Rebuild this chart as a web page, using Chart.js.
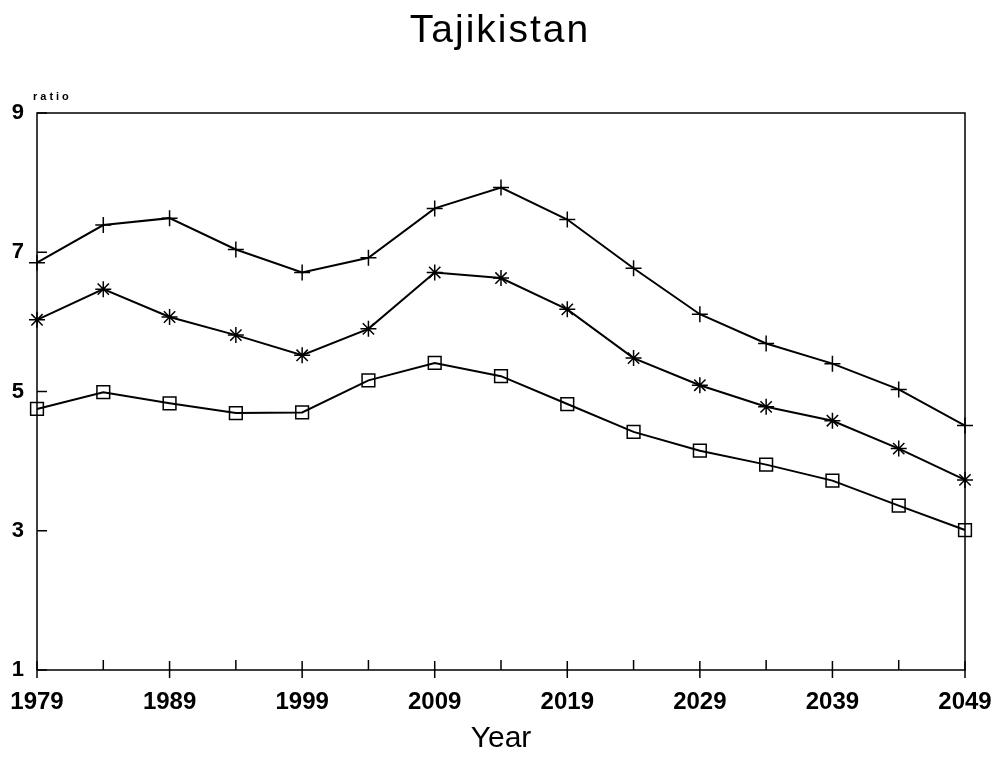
<!DOCTYPE html>
<html>
<head>
<meta charset="utf-8">
<script src="https://cdn.jsdelivr.net/npm/chart.js@4/dist/chart.umd.min.js"></script>
<style>
  html, body { margin: 0; padding: 0; background: #fff; }
  #wrap { width: 1006px; height: 759px; }
</style>
</head>
<body>
<div id="wrap"><canvas id="ratioChart" width="1006" height="759"></canvas></div>
<script>
// data
var years = [1979, 1984, 1989, 1994, 1999, 2004, 2009, 2014, 2019, 2024, 2029, 2034, 2039, 2044, 2049];
var plusSeries = [6.85, 7.39, 7.49, 7.04, 6.71, 6.92, 7.63, 7.93, 7.47, 6.77, 6.11, 5.69, 5.40, 5.03, 4.51];
var starSeries = [6.03, 6.47, 6.07, 5.81, 5.52, 5.90, 6.71, 6.63, 6.18, 5.48, 5.09, 4.78, 4.58, 4.18, 3.73];
var squareSeries = [4.75, 4.99, 4.83, 4.69, 4.70, 5.16, 5.41, 5.22, 4.82, 4.42, 4.15, 3.95, 3.72, 3.36, 3.01];
var xTicks = [1979, 1989, 1999, 2009, 2019, 2029, 2039, 2049];
var yTicks = [1, 3, 5, 7, 9];
var chartTitle = 'Tajikistan';
var yUnit = 'ratio';
var xTitle = 'Year';

var FONT = "'Liberation Sans', Arial, Helvetica, sans-serif";

function toPoints(arr) {
    return arr.map(function (v, i) { return { x: years[i], y: v }; });
}

// frame, tick marks, title and the little unit label
var framePlugin = {
    id: 'frame',
    afterDatasetsDraw: function (chart) {
        var ctx = chart.ctx;
        var a = chart.chartArea;
        var xs = chart.scales.x;
        var ys = chart.scales.y;
        ctx.save();
        ctx.strokeStyle = '#000';
        ctx.lineWidth = 1.5;
        ctx.beginPath();
        ctx.moveTo(a.left, a.bottom);
        ctx.lineTo(a.left, a.top);
        ctx.lineTo(a.right, a.top);
        ctx.lineTo(a.right, a.bottom);
        ctx.lineTo(a.left, a.bottom);
        ctx.stroke();

        // x ticks: labelled years cross the axis, the others point up
        years.forEach(function (yr) {
            var px = xs.getPixelForValue(yr);
            ctx.beginPath();
            if (xTicks.indexOf(yr) >= 0) {
                ctx.moveTo(px, a.bottom - 9);
                ctx.lineTo(px, a.bottom + 8);
            } else {
                ctx.moveTo(px, a.bottom - 10);
                ctx.lineTo(px, a.bottom);
            }
            ctx.stroke();
        });
        // y ticks point inwards
        yTicks.forEach(function (v) {
            var py = ys.getPixelForValue(v);
            ctx.beginPath();
            ctx.moveTo(a.left, py);
            ctx.lineTo(a.left + 10, py);
            ctx.stroke();
        });

        ctx.fillStyle = '#000';
        ctx.textBaseline = 'alphabetic';

        ctx.font = 'bold 11px ' + FONT;
        ctx.textAlign = 'left';
        ctx.letterSpacing = '3px';
        ctx.fillText(yUnit, 33, 100);

        ctx.font = '39px ' + FONT;
        ctx.textAlign = 'center';
        ctx.letterSpacing = '2px';
        ctx.fillText(chartTitle, 500, 42);
        ctx.letterSpacing = '0px';
        ctx.restore();
    }
};

var ctx = document.getElementById('ratioChart').getContext('2d');
var chart = new Chart(ctx, {
    type: 'line',
    data: {
        datasets: [
            {
                label: 'plus',
                data: toPoints(plusSeries),
                borderColor: '#000',
                borderWidth: 2,
                pointStyle: 'cross',
                pointRadius: 8,
                pointBorderWidth: 1.5,
                pointBorderColor: '#000',
                pointBackgroundColor: '#000',
                fill: false,
                clip: false,
                tension: 0
            },
            {
                label: 'star',
                data: toPoints(starSeries),
                borderColor: '#000',
                borderWidth: 2,
                pointStyle: 'star',
                pointRadius: 8,
                pointBorderWidth: 1.5,
                pointBorderColor: '#000',
                pointBackgroundColor: '#000',
                fill: false,
                clip: false,
                tension: 0
            },
            {
                label: 'square',
                data: toPoints(squareSeries),
                borderColor: '#000',
                borderWidth: 2,
                pointStyle: 'rect',
                pointRadius: 9,
                pointBorderWidth: 1.5,
                pointBorderColor: '#000',
                pointBackgroundColor: 'rgba(255,255,255,0)',
                fill: false,
                clip: false,
                tension: 0
            }
        ]
    },
    options: {
        responsive: false,
        animation: false,
        layout: { padding: { left: 0, right: 41, top: 113, bottom: 2 } },
        plugins: {
            legend: { display: false },
            tooltip: { enabled: false },
            title: { display: false }
        },
        scales: {
            x: {
                type: 'linear',
                min: 1979,
                max: 2049,
                afterBuildTicks: function (s) {
                    s.ticks = xTicks.map(function (v) { return { value: v }; });
                },
                afterFit: function (s) {
                    s.height = 87;
                    s.paddingLeft = 0;
                    s.paddingRight = 0;
                },
                grid: { display: false, drawTicks: false },
                border: { display: false },
                ticks: {
                    color: '#000',
                    padding: 18,
                    maxRotation: 0,
                    font: { family: FONT, size: 24, weight: 'bold' },
                    callback: function (v) { return String(v); }
                },
                title: {
                    display: true,
                    text: xTitle,
                    color: '#000',
                    font: { family: FONT, size: 30, weight: 'normal' },
                    padding: { top: 0, bottom: 0 }
                }
            },
            y: {
                type: 'linear',
                min: 1,
                max: 9,
                afterBuildTicks: function (s) {
                    s.ticks = yTicks.map(function (v) { return { value: v }; });
                },
                afterFit: function (s) {
                    s.width = 37;
                    s.paddingTop = 0;
                    s.paddingBottom = 0;
                },
                grid: { display: false, drawTicks: false },
                border: { display: false },
                ticks: {
                    color: '#000',
                    padding: 13,
                    font: { family: FONT, size: 22, weight: 'bold' }
                }
            }
        }
    },
    plugins: [framePlugin]
});
</script>
</body>
</html>
